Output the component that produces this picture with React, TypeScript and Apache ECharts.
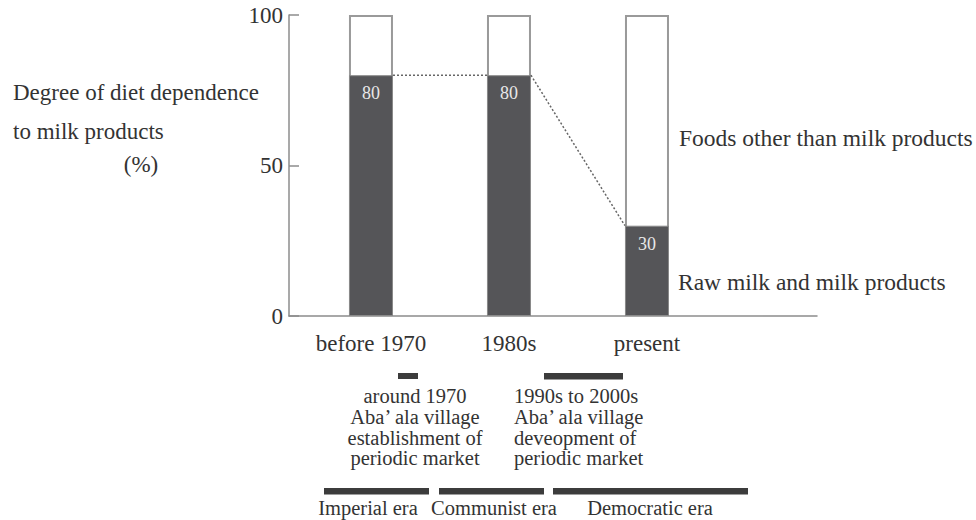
import React, { useEffect, useRef } from "react";
import * as echarts from "echarts";

// ---- data ----
const categories = ["before 1970", "1980s", "present"];
const milkValues = [80, 80, 30];
const otherValues = [20, 20, 70];
const yAxisTitle = ["Degree of diet dependence", "to milk products", "(%)"];
const legendLabels = ["Foods other than milk products", "Raw milk and milk products"];
const marketNotes = [
  ["around 1970", "Aba’ ala village", "establishment of", "periodic market"],
  ["1990s to 2000s", "Aba’ ala village", "deveopment of", "periodic market"],
];
const eraLabels = ["Imperial era", "Communist era", "Democratic era"];

// ---- layout ----
const W = 976;
const H = 520;
const GRID_LEFT = 289;
const GRID_RIGHT = 159;
const GRID_TOP = 15;
const GRID_BOTTOM = 204;
const X_MIN = -0.594;
const X_MAX = 3.232;
const BAR_WIDTH = 44;
const SERIF = "'Liberation Serif', 'Times New Roman', serif";
const TEXT = "#333333";
const AXIS = "#8c8c8c";

export default function App() {
  const ref = useRef<HTMLDivElement>(null);

  useEffect(() => {
    document.body.style.margin = "0";
    if (!ref.current) return;
    const chart = echarts.init(ref.current, null, { renderer: "svg" });

    const plotW = W - GRID_LEFT - GRID_RIGHT;
    const pxPerUnit = plotW / (X_MAX - X_MIN);
    const hw = BAR_WIDTH / 2 / pxPerUnit;

    const txt = (text: string, x: number, y: number, size: number, align = "left") => ({
      type: "text",
      x,
      y,
      silent: true,
      style: {
        text,
        fill: TEXT,
        fontSize: size,
        fontFamily: SERIF,
        align,
        textAlign: align,
        verticalAlign: "middle",
        textVerticalAlign: "middle",
      },
    });
    const rect = (x: number, y: number, w: number, h: number) => ({
      type: "rect",
      silent: true,
      shape: { x, y, width: w, height: h },
      style: { fill: "#3c3c3c" },
    });

    const graphics: any[] = [
      txt(yAxisTitle[0], 13, 92, 23),
      txt(yAxisTitle[1], 13, 131, 23),
      txt(yAxisTitle[2], 141, 164, 23, "center"),
      txt(legendLabels[0], 679, 138, 23.5),
      txt(legendLabels[1], 678, 282, 23.5),
      rect(398, 373, 20, 6),
      rect(544, 373, 79, 6.5),
      rect(324, 488, 105, 6.5),
      rect(439, 488, 105, 6.5),
      rect(553, 488, 195, 6.5),
    ];
    const lineYs = [396, 417, 438, 458];
    marketNotes[0].forEach((s, i) => graphics.push(txt(s, 415, lineYs[i], 20.5, "center")));
    marketNotes[1].forEach((s, i) => graphics.push(txt(s, 514, lineYs[i], 20.5, "left")));
    const eraX = [368, 494, 650];
    eraLabels.forEach((s, i) => graphics.push(txt(s, eraX[i], 508, 20.5, "center")));

    chart.setOption({
      animation: false,
      backgroundColor: "#ffffff",
      grid: { left: GRID_LEFT, right: GRID_RIGHT, top: GRID_TOP, bottom: GRID_BOTTOM },
      xAxis: {
        type: "value",
        min: X_MIN,
        max: X_MAX,
        splitLine: { show: false },
        axisTick: { show: false },
        axisLine: { show: true, onZero: false, lineStyle: { color: AXIS, width: 1.5 } },
        axisLabel: {
          customValues: categories.map((_, i) => i),
          formatter: (v: number) => categories[Math.round(v)] ?? "",
          fontSize: 23,
          fontFamily: SERIF,
          color: TEXT,
          margin: 16,
        },
      },
      yAxis: {
        type: "value",
        min: 0,
        max: 100,
        interval: 50,
        splitLine: { show: false },
        axisLine: { show: true, onZero: false, lineStyle: { color: AXIS, width: 1.5 } },
        axisTick: { show: true, inside: true, length: 10, lineStyle: { color: AXIS, width: 1.5 } },
        axisLabel: { fontSize: 23, fontFamily: SERIF, color: TEXT, margin: 6 },
      },
      series: [
        {
          name: "other",
          type: "bar",
          barWidth: BAR_WIDTH,
          barGap: "-100%",
          data: otherValues.map((v, i) => [i, v + milkValues[i]]),
          itemStyle: { color: "#ffffff", borderColor: "#9a9a9a", borderWidth: 2 },
          z: 2,
        },
        {
          name: "milk",
          type: "bar",
          barWidth: BAR_WIDTH,
          barGap: "-100%",
          data: milkValues.map((v, i) => [i, v]),
          itemStyle: { color: "#555558", borderColor: "#8a8a8a", borderWidth: 1 },
          label: {
            show: true,
            position: "insideTop",
            distance: 9,
            color: "#e8e8e8",
            fontSize: 18,
            fontFamily: SERIF,
            formatter: (p: any) => String(p.value[1]),
          },
          z: 3,
        },
        {
          type: "line",
          symbol: "none",
          data: [
            [0 + hw, milkValues[0]],
            [1 - hw, milkValues[1]],
          ],
          lineStyle: { type: [2, 2], color: "#666", width: 1.5 },
          z: 4,
        },
        {
          type: "line",
          symbol: "none",
          data: [
            [1 + hw, milkValues[1]],
            [2 - hw, milkValues[2]],
          ],
          lineStyle: { type: [2, 2], color: "#666", width: 1.5 },
          z: 4,
        },
      ],
      graphic: graphics,
    });

    return () => chart.dispose();
  }, []);

  return <div ref={ref} style={{ width: W, height: H }} />;
}
